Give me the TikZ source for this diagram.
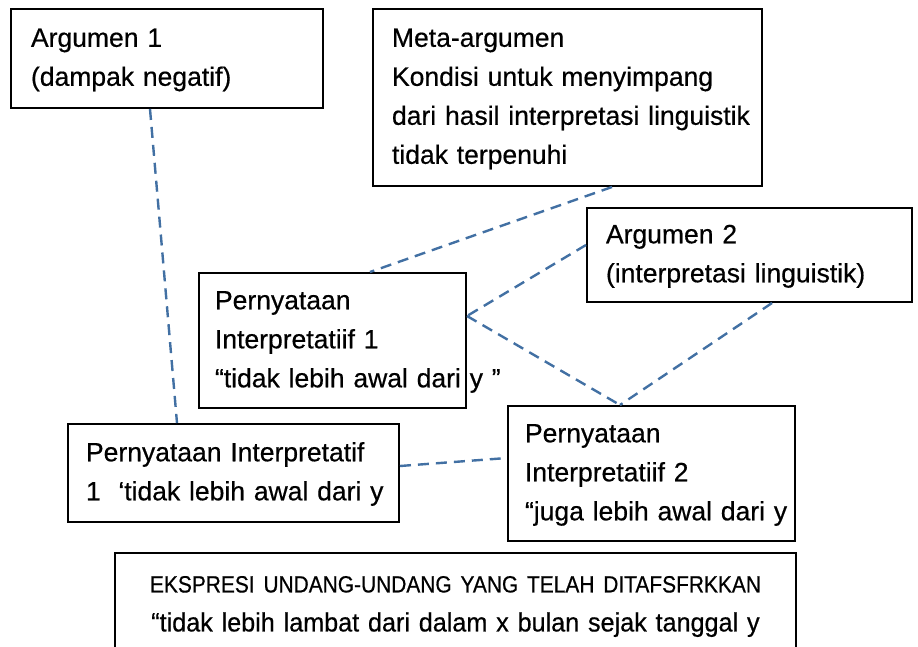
\documentclass[tikz,border=0pt]{standalone}
\usepackage{fontspec}
\setmainfont[WordSpace=0.8, FakeBold=0.5]{Liberation Sans}
\newfontfamily\narrowfont[FakeStretch=0.89, WordSpace=0.75, FakeBold=0.5]{Liberation Sans}
\newfontfamily\quotefont[FakeStretch=0.95, WordSpace=0.8, FakeBold=0.5]{Liberation Sans}
\usetikzlibrary{calc}

\newcommand{\boxlines}[1]{\begin{tabular}{@{}l@{}}#1\end{tabular}}

\tikzset{
	argbox/.style={draw, line width=2pt, align=left, inner xsep=17pt, inner ysep=0pt,
		font=\fontsize{26.5}{39}\selectfont},
	link/.style={draw=linkblue, line width=2.4pt, dash pattern=on 11pt off 7pt}
}
\definecolor{linkblue}{RGB}{66,112,163}

\begin{document}
\begin{tikzpicture}[x=1pt, y=-1pt]
	\useasboundingbox (0,0) rectangle (918,647);
	% Boxes:
	\node[argbox, inner xsep=20pt, text width=272, minimum height=99] (arg1) at (167,58.5) {\boxlines{Argumen 1\\(dampak negatif)}};
	\node[argbox, inner xsep=19pt, text width=351, minimum height=177] (meta) at (567.5,97.5) {\boxlines{Meta-argumen\\Kondisi untuk menyimpang\\dari hasil interpretasi linguistik\\tidak terpenuhi}};
	\node[argbox, inner xsep=19pt, text width=287, minimum height=94] (arg2) at (749.5,255) {\boxlines{Argumen 2\\(interpretasi linguistik)}};
	\node[argbox, inner xsep=16pt, text width=235, minimum height=135] (pin1) at (332.5,340.5) {\boxlines{Pernyataan\\Interpretatiif 1\\“tidak lebih awal dari y ”}};
	\node[argbox, inner xsep=18pt, text width=295, minimum height=98] (pi1) at (233.5,473) {\boxlines{Pernyataan Interpretatif\\1~~‘tidak lebih awal dari y}};
	\node[argbox, inner xsep=17pt, text width=253, minimum height=135] (pin2) at (651.5,473.5) {\boxlines{Pernyataan\\Interpretatiif 2\\“juga lebih awal dari y}};
	\node[argbox, align=center, text width=647, minimum height=107] (expr) at (455.5,606.5) {{\narrowfont\fontsize{23.5}{36}\selectfont EKSPRESI UNDANG-UNDANG YANG TELAH DITAFSFRKKAN}\\{\quotefont “tidak lebih lambat dari dalam x bulan sejak tanggal y}};
	% Dashed links:
	\coordinate (p1r) at ([yshift=24.5pt]pin1.east);
	\coordinate (p2t) at ([xshift=-31.5pt]pin2.north);
	\draw[link] ([xshift=-17pt]arg1.south) -- ([xshift=-56.5pt]pi1.north);
	\draw[link] ([xshift=44.5pt]meta.south) -- ([xshift=37.5pt]pin1.north);
	\draw[link] ([yshift=10pt]arg2.west) -- (p1r);
	\draw[link] (p1r) -- (p2t);
	\draw[link] ([xshift=22.5pt]arg2.south) -- (p2t);
	\draw[link] ([yshift=7pt]pi1.east) -- ([yshift=15.5pt]pin2.west);
\end{tikzpicture}
\end{document}
